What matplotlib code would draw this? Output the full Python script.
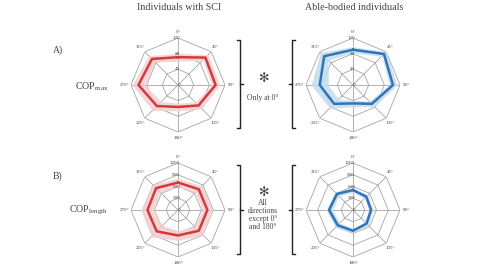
import numpy as np
import matplotlib
matplotlib.use("Agg")
import matplotlib.pyplot as plt

plt.rcParams['font.family'] = ['Liberation Serif', 'DejaVu Serif']

# directions (degrees, clockwise from top)
directions = [0, 45, 90, 135, 180, 225, 270, 315]
dir_labels = ['0°', '45°', '90°', '135°', '180°', '225°', '270°', '315°']

# COPmax (mm) - mean and spread
sci_max = [71, 99, 96, 74, 56, 76, 101, 94]
sci_max_sd = [10, 10, 10, 12, 10, 16, 16, 12]
ab_max = [90, 112, 102, 68, 47, 68, 85, 104]
ab_max_sd = [8, 8, 10, 10, 8, 16, 22, 14]

# COPlength (mm)
sci_len = [700, 750, 750, 750, 650, 770, 780, 790]
sci_len_sd = [110, 120, 130, 150, 130, 200, 170, 140]
ab_len = [510, 480, 460, 490, 530, 550, 610, 580]
ab_len_sd = [60, 60, 60, 60, 60, 80, 80, 70]

max_rings = [40, 80, 120]
len_rings = [300, 600, 900, 1200]

RED = '#d23a3e'
RED_BAND = '#f4cfcf'
BLUE = '#2f74b8'
BLUE_BAND = '#c3dcee'
GRID = '#a5a5a5'
TXT = '#444444'

W, H = 478, 264
fig = plt.figure(figsize=(W / 100, H / 100), dpi=100)

# background axes in pixel units for the annotations
bg = fig.add_axes([0, 0, 1, 1])
bg.set_xlim(0, W)
bg.set_ylim(H, 0)
bg.axis('off')


def radar(cx, cy, mean, sd, rings, color, band):
    rad = 47
    ax = fig.add_axes([(cx - rad) / W, (H - cy - rad) / H, 2 * rad / W, 2 * rad / H],
                      projection='polar')
    ax.set_theta_zero_location('N')
    ax.set_theta_direction(-1)
    rmax = rings[-1]
    ax.set_ylim(0, rmax)
    ax.grid(False)
    ax.spines['polar'].set_visible(False)
    ax.set_xticks([])
    ax.set_yticks([])
    ax.patch.set_alpha(0)

    th = np.deg2rad(directions + [directions[0]])
    for r in rings:
        ax.plot(th, [r] * len(th), color=GRID, lw=0.6, zorder=1)
    for t in th[:-1]:
        ax.plot([t, t], [0, rmax], color=GRID, lw=0.6, zorder=1)

    m = np.array(mean + [mean[0]], dtype=float)
    s = np.array(sd + [sd[0]], dtype=float)
    ax.fill_between(th, m - s, m + s, color=band, alpha=0.85, lw=0, zorder=2)
    ax.plot(th, m, color=color, lw=1.8, zorder=3)

    for t, lab in zip(th[:-1], dir_labels):
        ax.text(t, rmax * 1.13, lab, ha='center', va='center', fontsize=3.6, color=TXT)
    for r in [0] + rings:
        ax.annotate(str(r), (0, r), xytext=(1.5, 0), textcoords='offset points',
                    ha='right', va='center', fontsize=3.6, color=TXT, zorder=4)
    return ax


radar(178, 85, sci_max, sci_max_sd, max_rings, RED, RED_BAND)
radar(353, 85, ab_max, ab_max_sd, max_rings, BLUE, BLUE_BAND)
radar(178, 210, sci_len, sci_len_sd, len_rings, RED, RED_BAND)
radar(353, 210, ab_len, ab_len_sd, len_rings, BLUE, BLUE_BAND)

# titles and row labels
bg.text(179, 8, 'Individuals with SCI', ha='center', va='center', fontsize=7.2, color=TXT)
bg.text(354, 8, 'Able-bodied individuals', ha='center', va='center', fontsize=7.2, color=TXT)
bg.text(58, 50, 'A)', ha='center', va='center', fontsize=7, color=TXT)
bg.text(58, 176, 'B)', ha='center', va='center', fontsize=7, color=TXT)
bg.text(92, 87, r'COP$_{\mathregular{max}}$', ha='center', va='center', fontsize=7.2, color=TXT)
bg.text(88, 210, r'COP$_{\mathregular{length}}$', ha='center', va='center', fontsize=7.2, color=TXT)


def brackets(y0, y1):
    ym = (y0 + y1) / 2
    bg.plot([237, 240, 240, 237], [y0, y0, y1, y1], color='#222222', lw=1.0)
    bg.plot([240, 243], [ym, ym], color='#222222', lw=1.0)
    bg.plot([295, 292, 292, 295], [y0, y0, y1, y1], color='#222222', lw=1.0)
    bg.plot([292, 289], [ym, ym], color='#222222', lw=1.0)


brackets(40, 128)
brackets(165, 254)

bg.text(263, 78, '✻', ha='center', va='center', fontsize=9, color=TXT,
        family=['DejaVu Sans'])
bg.text(263, 98, 'Only at 0°', ha='center', va='center', fontsize=5.5, color=TXT)
bg.text(263, 193, '✻', ha='center', va='center', fontsize=9, color=TXT,
        family=['DejaVu Sans'])
bg.text(263, 215, 'All\ndirections\nexcept 0°\nand 180°', ha='center', va='center',
        fontsize=5.5, color=TXT, linespacing=1.05)

fig.savefig('out.png', dpi=100)
